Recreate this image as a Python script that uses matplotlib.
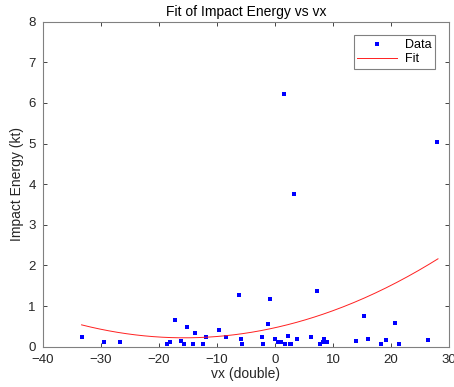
import numpy as np
import matplotlib
matplotlib.use('Agg')
import matplotlib.pyplot as plt

plt.rcParams['font.family'] = ['Liberation Sans', 'DejaVu Sans']

# impact data
vx = [-33.3, -29.4, -26.6, -18.6, -18.0, -17.2, -16.2, -15.7, -15.2, -14.1,
      -13.8, -12.3, -11.9, -9.6, -8.5, -6.2, -5.85, -5.6, -2.2, -2.1,
      -1.2, -0.8, 0.06, 0.57, 0.98, 1.55, 1.67, 2.18, 2.6, 2.75,
      3.3, 3.8, 6.3, 7.28, 7.7, 8.3, 8.5, 8.95, 14.0, 15.4,
      16.06, 18.3, 19.2, 20.65, 21.3, 26.4, 27.9]
energy = [0.24, 0.115, 0.115, 0.06, 0.115, 0.66, 0.13, 0.07, 0.49, 0.08,
          0.34, 0.08, 0.23, 0.41, 0.24, 1.27, 0.18, 0.07, 0.25, 0.07,
          0.55, 1.17, 0.18, 0.115, 0.115, 6.23, 0.06, 0.26, 0.07, 0.07,
          3.75, 0.18, 0.23, 1.37, 0.07, 0.11, 0.2, 0.11, 0.13, 0.755,
          0.18, 0.07, 0.16, 0.575, 0.07, 0.16, 5.03]

# quadratic fit coefficients (p1*x^2 + p2*x + p3) as shown in the reference
fit_coef = [0.001018, 0.03176, 0.4677]
xf = np.linspace(min(vx), 28.1, 200)
yf = np.polyval(fit_coef, xf)

fig = plt.figure(figsize=(4.54, 3.87), dpi=100)
ax = fig.add_axes([0.094, 0.104, 0.895, 0.84])
ax.plot(vx, energy, 's', color='blue', markersize=2.6, markeredgewidth=0, label='Data')
ax.plot(xf, yf, '-', color='#ff2020', linewidth=0.7, label='Fit')

ax.set_xlim(-40, 30)
ax.set_ylim(0, 8)
ax.set_xticks(np.arange(-40, 31, 10))
ax.set_yticks(np.arange(0, 9, 1))
ax.tick_params(direction='in', top=True, right=True, length=3, colors='#262626',
               labelsize=9.5, width=0.6, pad=5)
for s in ax.spines.values():
    s.set_color('#808080')
    s.set_linewidth(0.8)

ax.set_title('Fit of Impact Energy vs vx', fontsize=10, color='#000000', pad=4)
ax.set_xlabel('vx (double)', fontsize=10, color='#262626', labelpad=1)
ax.set_ylabel('Impact Energy (kt)', fontsize=10, color='#262626', labelpad=3)

leg = ax.legend(loc='upper right', fontsize=9, fancybox=False, framealpha=1,
                edgecolor='#808080', handlelength=3.2, borderaxespad=1.1,
                markerscale=1.0, borderpad=0.3, labelspacing=0.15, handletextpad=0.6)
leg.get_frame().set_linewidth(0.8)

fig.savefig('out.png', dpi=100)
